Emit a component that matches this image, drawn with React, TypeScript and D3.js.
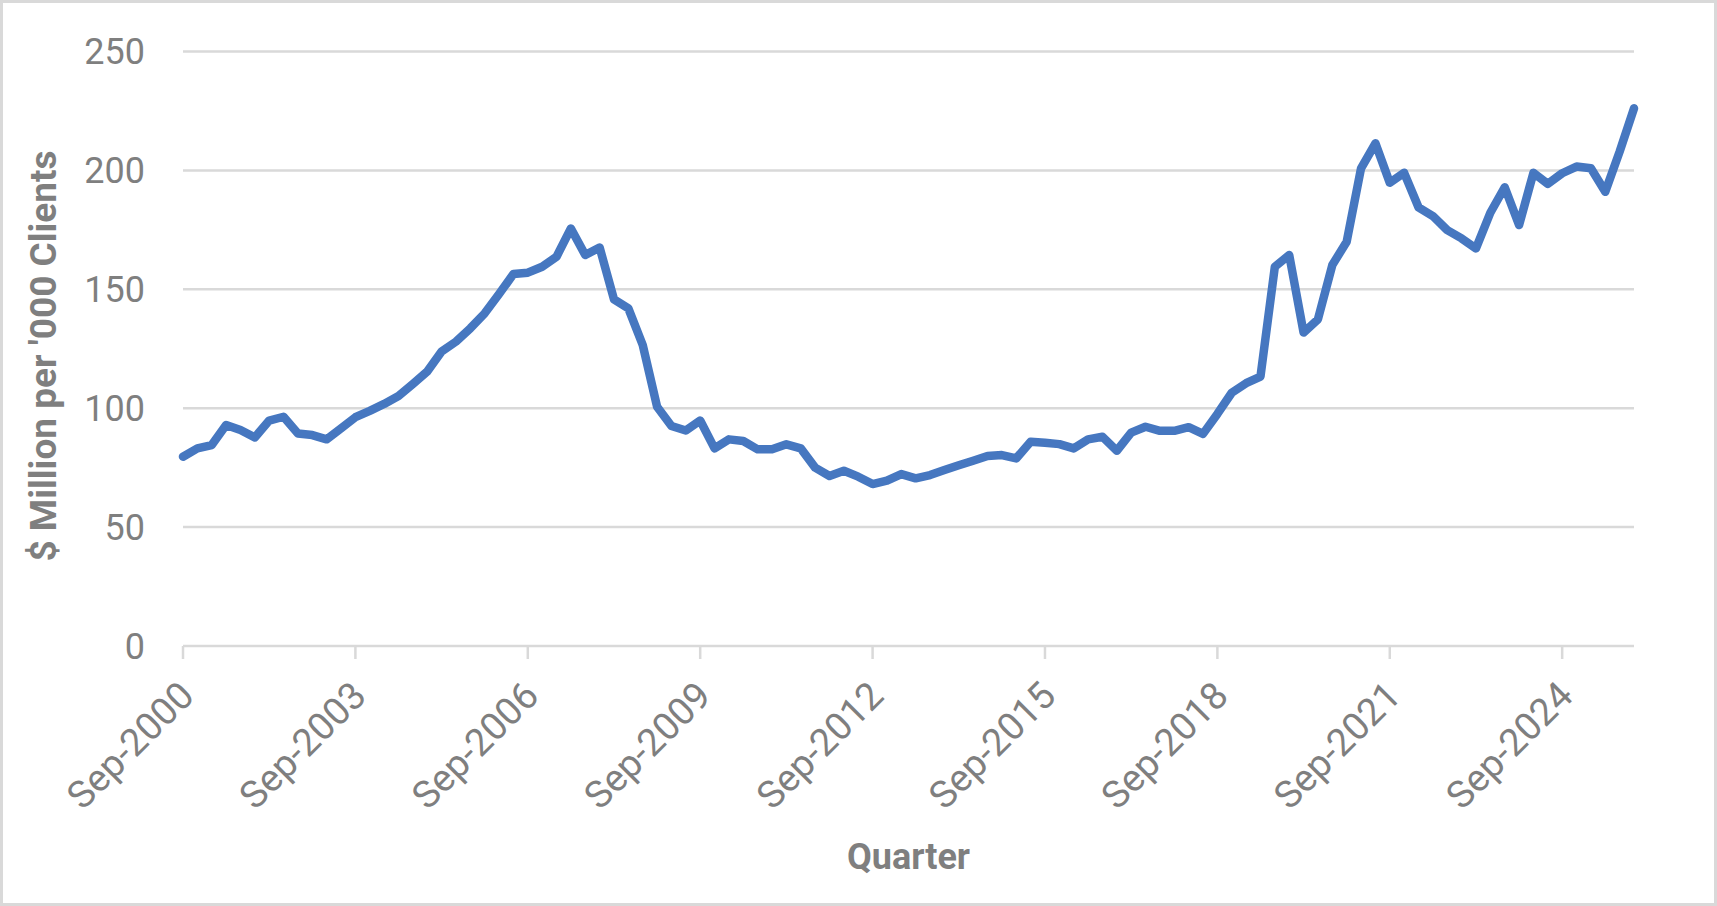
import React, { useEffect, useRef } from 'react';
import * as d3 from 'd3';

// quarterly values, Sep-2000 .. Dec-2025
const values: number[] = [
    79.6, 83.1, 84.5, 92.9, 90.8, 87.7, 94.8, 96.4, 89.4, 88.7,
    86.9, 91.5, 96.2, 98.9, 101.8, 105.1, 110.2, 115.4, 123.8, 128,
    133.6, 139.9, 148, 156.4, 157, 159.5, 163.7, 175.6, 164.4, 167.6,
    145.8, 142, 126.6, 100.6, 92.5, 90.6, 94.8, 83.1, 86.9, 86.2,
    82.7, 82.7, 84.8, 83.1, 75, 71.5, 73.7, 71.2, 68.1, 69.5,
    72.3, 70.5, 71.9, 74, 76, 77.9, 79.9, 80.3, 78.9, 85.9,
    85.5, 84.9, 83.1, 86.9, 88, 82.1, 89.7, 92.2, 90.5, 90.5,
    92, 89.2, 97.6, 106.5, 110.5, 113.3, 159.5, 164.4, 131.8, 137.4,
    160.2, 170, 200.9, 211.4, 194.8, 199, 184.5, 180.8, 174.9, 171.4,
    167.2, 182.2, 192.9, 177, 199, 194.3, 198.8, 201.6, 200.9, 191,
    207.9, 226.1
];

const months = ['Mar', 'Jun', 'Sep', 'Dec'];
const quarters: string[] = values.map((_, i) => {
    const q = i + 2; // start at Sep-2000
    return `${months[q % 4]}-${2000 + Math.floor(q / 4)}`;
});

const tickLabels = ['Sep-2000', 'Sep-2003', 'Sep-2006', 'Sep-2009', 'Sep-2012', 'Sep-2015', 'Sep-2018', 'Sep-2021', 'Sep-2024'];
const yTicks = [0, 50, 100, 150, 200, 250];

const W = 1717;
const H = 906;
const grey = '#7f7f7f';
const gridGrey = '#d9d9d9';

const App: React.FC = () => {
    const ref = useRef<SVGSVGElement>(null);

    useEffect(() => {
        const svg = d3.select(ref.current);
        svg.selectAll('*').remove();

        const left = 183, right = 1634, top = 51.5, bottom = 646;

        const x = d3.scalePoint<string>().domain(quarters).range([left, right]);
        const y = d3.scaleLinear().domain([0, 250]).range([bottom, top]);

        svg.append('rect')
            .attr('x', 1.5).attr('y', 1.5)
            .attr('width', W - 3).attr('height', H - 3)
            .attr('fill', '#fff')
            .attr('stroke', gridGrey)
            .attr('stroke-width', 3);

        // gridlines
        svg.append('g').selectAll('line')
            .data(yTicks)
            .enter().append('line')
            .attr('x1', left).attr('x2', right)
            .attr('y1', d => y(d)).attr('y2', d => y(d))
            .attr('stroke', gridGrey)
            .attr('stroke-width', 2.5);

        // y labels
        svg.append('g').selectAll('text')
            .data(yTicks)
            .enter().append('text')
            .attr('x', 145)
            .attr('y', d => y(d) + 12.8)
            .attr('text-anchor', 'end')
            .attr('font-family', 'Roboto')
            .attr('font-size', 36)
            .attr('fill', grey)
            .text(d => d);

        // x ticks + labels
        const xt = svg.append('g');
        xt.selectAll('line')
            .data(tickLabels)
            .enter().append('line')
            .attr('x1', d => x(d)!).attr('x2', d => x(d)!)
            .attr('y1', bottom).attr('y2', bottom + 13)
            .attr('stroke', gridGrey)
            .attr('stroke-width', 2.5);
        xt.selectAll('text')
            .data(tickLabels)
            .enter().append('text')
            .attr('transform', d => `translate(${x(d)! + 13},${bottom + 52}) rotate(-45)`)
            .attr('text-anchor', 'end')
            .attr('font-family', 'Roboto')
            .attr('font-size', 38)
            .attr('fill', grey)
            .text(d => d);

        const line = d3.line<number>()
            .x((_, i) => x(quarters[i])!)
            .y(d => y(d));

        svg.append('path')
            .datum(values)
            .attr('d', line)
            .attr('fill', 'none')
            .attr('stroke', '#4677c0')
            .attr('stroke-width', 8.5)
            .attr('stroke-linejoin', 'round')
            .attr('stroke-linecap', 'round');

        svg.append('text')
            .attr('transform', `translate(56,356) rotate(-90)`)
            .attr('text-anchor', 'middle')
            .attr('font-family', 'Roboto')
            .attr('font-weight', 'bold')
            .attr('font-size', 37)
            .attr('fill', grey)
            .text("$ Million per '000 Clients");

        svg.append('text')
            .attr('x', (left + right) / 2)
            .attr('y', 869)
            .attr('text-anchor', 'middle')
            .attr('font-family', 'Roboto')
            .attr('font-weight', 'bold')
            .attr('font-size', 36)
            .attr('fill', grey)
            .text('Quarter');
    }, []);

    return (
        <svg ref={ref} width={W} height={H}
            style={{ position: 'absolute', left: 0, top: 0, display: 'block' }} />
    );
};

export default App;
